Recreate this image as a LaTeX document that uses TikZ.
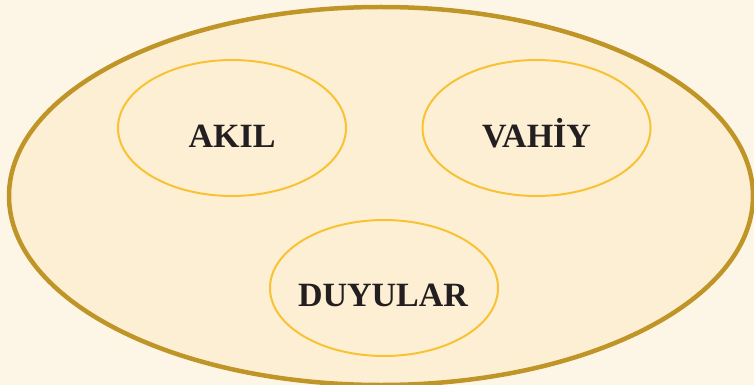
\documentclass[tikz,border=0pt]{standalone}
\usepackage{fontspec}
\setmainfont{Liberation Serif}
\begin{document}
\begin{tikzpicture}[x=1pt,y=-1pt]
\definecolor{bgcream}{HTML}{FDF6E7}
\definecolor{innerfill}{HTML}{FDEFD4}
\definecolor{outerline}{HTML}{BF9527}
\definecolor{ringline}{HTML}{F9C234}
\definecolor{inkdark}{HTML}{231F20}
\tikzset{
  ring/.style={draw=ringline, line width=2pt},
  label/.style={font=\fontsize{34}{36}\selectfont\bfseries, text=inkdark, anchor=base, inner sep=0pt}
}
\fill[bgcream] (0,0) rectangle (754,385);
\useasboundingbox (0,0) rectangle (754,385);
% enclosing ellipse
\draw[outerline, line width=4.5pt, fill=innerfill] (381,196) ellipse [x radius=372, y radius=189];
% three sources of knowledge
\draw[ring] (232,128) ellipse [x radius=114, y radius=68];
\draw[ring] (536.5,128) ellipse [x radius=114, y radius=68];
\draw[ring] (384,288) ellipse [x radius=114, y radius=68];
\node[label] (akil) at (232,147) {AKIL};
\node[label] (vahiy) at (536.5,147) {VAHİY};
\node[label] (duyular) at (383,306) {DUYULAR};
\end{tikzpicture}
\end{document}
